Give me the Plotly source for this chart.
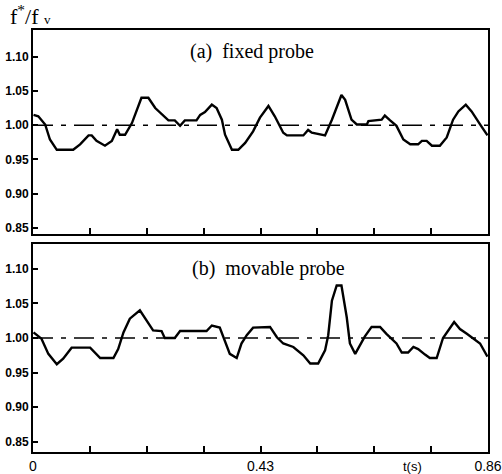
import plotly.graph_objects as go
from plotly.subplots import make_subplots

# (a) fixed probe
t_a = [0.001, 0.010, 0.023, 0.032, 0.045, 0.076, 0.089, 0.105, 0.111, 0.120, 0.136, 0.149,
       0.159, 0.164, 0.174, 0.187, 0.205, 0.218, 0.231, 0.246, 0.256, 0.268, 0.278, 0.287,
       0.309, 0.316, 0.325, 0.338, 0.347, 0.357, 0.363, 0.376, 0.388, 0.401, 0.416, 0.429,
       0.445, 0.457, 0.473, 0.480, 0.511, 0.520, 0.527, 0.552, 0.565, 0.583, 0.590, 0.602,
       0.612, 0.631, 0.634, 0.659, 0.665, 0.675, 0.687, 0.700, 0.713, 0.728, 0.735, 0.744,
       0.754, 0.769, 0.782, 0.794, 0.804, 0.818, 0.829, 0.845, 0.859]
f_a = [1.015, 1.013, 1.001, 0.979, 0.964, 0.964, 0.972, 0.985, 0.985, 0.977, 0.970, 0.977,
       0.994, 0.986, 0.986, 1.003, 1.040, 1.040, 1.025, 1.015, 1.007, 1.007, 0.999, 1.007,
       1.007, 1.015, 1.019, 1.030, 1.025, 1.008, 0.986, 0.964, 0.964, 0.974, 0.991, 1.011,
       1.028, 1.013, 0.989, 0.985, 0.985, 0.993, 0.989, 0.985, 1.008, 1.044, 1.037, 1.008,
       1.001, 1.001, 1.006, 1.008, 1.014, 1.007, 0.999, 0.979, 0.972, 0.972, 0.977, 0.977,
       0.970, 0.970, 0.982, 1.008, 1.020, 1.030, 1.020, 1.001, 0.985]

# (b) movable probe
t_b = [0.001, 0.016, 0.029, 0.045, 0.057, 0.073, 0.108, 0.127, 0.152, 0.161, 0.171, 0.183,
       0.202, 0.227, 0.243, 0.249, 0.268, 0.278, 0.328, 0.338, 0.353, 0.360, 0.372, 0.385,
       0.394, 0.404, 0.416, 0.448, 0.461, 0.473, 0.492, 0.511, 0.524, 0.539, 0.552, 0.558,
       0.565, 0.574, 0.583, 0.593, 0.599, 0.609, 0.618, 0.627, 0.640, 0.656, 0.668, 0.687,
       0.697, 0.709, 0.719, 0.728, 0.741, 0.750, 0.763, 0.775, 0.796, 0.807, 0.820, 0.832,
       0.845, 0.859]
f_b = [1.008, 0.999, 0.977, 0.962, 0.970, 0.986, 0.986, 0.971, 0.971, 0.984, 1.008, 1.028,
       1.040, 1.011, 1.010, 1.000, 1.000, 1.010, 1.010, 1.018, 1.015, 1.000, 0.977, 0.971,
       0.992, 1.004, 1.015, 1.016, 1.001, 0.992, 0.987, 0.975, 0.963, 0.963, 0.982, 1.004,
       1.054, 1.076, 1.076, 1.030, 0.992, 0.977, 0.989, 1.002, 1.016, 1.016, 1.006, 0.992,
       0.979, 0.979, 0.987, 0.984, 0.976, 0.971, 0.971, 1.000, 1.023, 1.013, 1.006, 0.999,
       0.992, 0.973]

ref_level = 1.00
y_ticks = [0.85, 0.90, 0.95, 1.00, 1.05, 1.10]
y_ticklabels = ["0.85", "0.90", "0.95", "1.00", "1.05", "1.10"]
x_ticks = [0, 0.1075, 0.215, 0.3225, 0.43, 0.5375, 0.645, 0.7525, 0.86]
x_ticklabels = ["0", "", "", "", "0.43", "", "", "", "0.86"]
panel_titles = ["(a)  fixed probe", "(b)  movable probe"]

fig = make_subplots(rows=2, cols=1, shared_xaxes=False, vertical_spacing=0.02)

for row, (t, f) in enumerate([(t_a, f_a), (t_b, f_b)], start=1):
    fig.add_trace(go.Scatter(x=[0, 0.86], y=[ref_level, ref_level], mode="lines",
                             line=dict(color="black", width=1.5, dash="20px,8px,5px,8px"),
                             showlegend=False, hoverinfo="skip"), row=row, col=1)
    fig.add_trace(go.Scatter(x=t, y=f, mode="lines",
                             line=dict(color="black", width=2.4),
                             showlegend=False), row=row, col=1)

axis_common = dict(showline=True, linecolor="black", linewidth=2, mirror=True,
                   showgrid=False, zeroline=False, automargin=False)

fig.update_xaxes(range=[0, 0.86], tickvals=x_ticks, ticks="inside", ticklen=6,
                 tickwidth=1.5, tickcolor="black", **axis_common)
fig.update_xaxes(ticktext=[""] * len(x_ticks), row=1, col=1)
fig.update_xaxes(ticktext=x_ticklabels, row=2, col=1,
                 tickfont=dict(family="Liberation Sans", size=14, color="black"))
fig.update_yaxes(tickvals=y_ticks, ticktext=y_ticklabels, ticks="inside", ticklen=5,
                 tickwidth=1.5, tickcolor="black",
                 tickfont=dict(family="Liberation Sans", size=12, color="black", weight="bold"),
                 ticklabelstandoff=0, **axis_common)
fig.update_yaxes(range=[0.841, 1.139], domain=[0.5166, 1.0], row=1, col=1)
fig.update_yaxes(range=[0.835, 1.136], domain=[0.0, 0.4929], row=2, col=1)

fig.add_annotation(text=panel_titles[0], xref="paper", yref="paper", x=0.482, y=0.950,
                   xanchor="center", yanchor="middle", showarrow=False,
                   font=dict(family="Liberation Serif", size=20, color="black"))
fig.add_annotation(text=panel_titles[1], xref="paper", yref="paper", x=0.517, y=0.436,
                   xanchor="center", yanchor="middle", showarrow=False,
                   font=dict(family="Liberation Serif", size=20, color="black"))
fig.add_annotation(text="f<sup>*</sup>/f <span style='font-size:13px'>v</span>",
                   xref="paper", yref="paper",
                   x=-0.055, y=1.074, xanchor="left", yanchor="top", showarrow=False,
                   font=dict(family="Liberation Serif", size=22, color="black"))
fig.add_annotation(text="t(s)", xref="paper", yref="paper", x=0.835, y=-0.012,
                   xanchor="center", yanchor="top", showarrow=False,
                   font=dict(family="Liberation Sans", size=13, color="black"))

fig.update_layout(width=502, height=474, margin=dict(l=33, r=14, t=30, b=22),
                  paper_bgcolor="white", plot_bgcolor="white")

# remove the page's default body margin so the figure fills the window exactly
fig.write_html("out.html", config={"displayModeBar": False},
               post_script="document.body.style.margin='0';")
